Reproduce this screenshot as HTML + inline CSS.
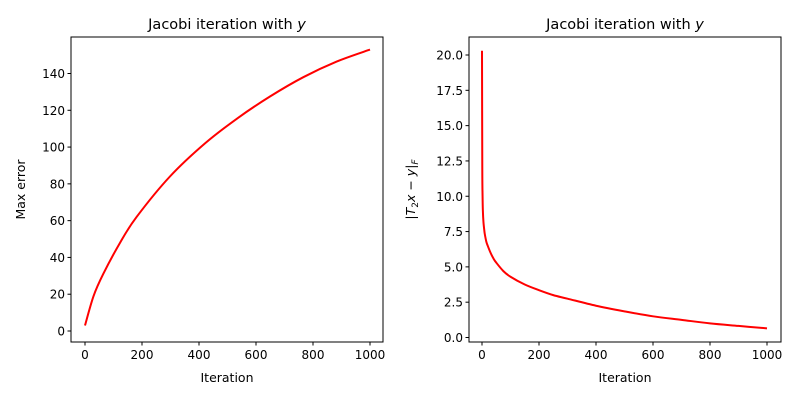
<!DOCTYPE html>
<html><head><meta charset="utf-8"><style>
body{margin:0;background:#fff;width:800px;height:400px;overflow:hidden}
text{font-family:"DejaVu Sans","Liberation Sans",sans-serif;fill:#000}
</style></head><body>
<svg id="chart" width="800" height="400" xmlns="http://www.w3.org/2000/svg"></svg>
<script>
const leftIters = [0,30,64,123,181,298,421,538,649,766,883,1000];
const leftVals = [3,19,31,48,62,84,102,116,127.5,138,146.5,153];
const rightIters = [0,1,2,3,5,8,10,15,20,30,40,50,75,100,150,200,250,300,400,500,600,700,800,900,1000];
const rightVals = [20.3,12,10,9,8.2,7.6,7.3,6.8,6.5,6.0,5.6,5.3,4.7,4.3,3.75,3.35,3.0,2.75,2.25,1.85,1.5,1.25,1.0,0.82,0.65];
const xTicks = [0,200,400,600,800,1000];
const leftYTicks = [0,20,40,60,80,100,120,140];
const rightYTicks = [0,2.5,5,7.5,10,12.5,15,17.5,20];
const rightYLabels = ["0.0","2.5","5.0","7.5","10.0","12.5","15.0","17.5","20.0"];

const svg = document.getElementById('chart');
const NS = 'http://www.w3.org/2000/svg';
function mk(tag, attrs, txt){const e=document.createElementNS(NS,tag);for(const k in attrs)e.setAttribute(k,attrs[k]);if(txt!==undefined)e.textContent=txt;svg.appendChild(e);return e;}

function smoothPath(pts){
  let d='M'+pts[0][0].toFixed(2)+','+pts[0][1].toFixed(2);
  for(let i=0;i<pts.length-1;i++){
    const p0=pts[i-1]||pts[i],p1=pts[i],p2=pts[i+1],p3=pts[i+2]||p2;
    const c1=[p1[0]+(p2[0]-p0[0])/6,p1[1]+(p2[1]-p0[1])/6];
    const c2=[p2[0]-(p3[0]-p1[0])/6,p2[1]-(p3[1]-p1[1])/6];
    d+=' C'+c1.map(v=>v.toFixed(2)).join(',')+' '+c2.map(v=>v.toFixed(2)).join(',')+' '+p2[0].toFixed(2)+','+p2[1].toFixed(2);
  }
  return d;
}

function panel(p){
  const xs=v=>p.x0+(v-0)*(p.x1-p.x0)/1000;
  const ys=v=>p.y0-(v-p.ymin)*(p.y0-p.y1)/(p.ymax-p.ymin);
  const frame=mk('rect',{x:p.L,y:37,width:312,height:305,fill:'none',stroke:'#000','stroke-width':1});
  
  
  xTicks.forEach(t=>{
    const l=mk('line',{x1:xs(t),x2:xs(t),y1:342,y2:345.5,stroke:'#000'});
    
    
    const tx=mk('text',{x:xs(t),y:359,'font-size':12,'text-anchor':'middle'},String(t));
    
    
  });
  p.yTicks.forEach((t,i)=>{
    const l=mk('line',{x1:p.L-3.5,x2:p.L,y1:ys(t),y2:ys(t),stroke:'#000'});
    
    
    const tx=mk('text',{x:p.L-6,y:ys(t)+4.5,'font-size':12,'text-anchor':'end'},p.yLabels[i]);
    
    
  });
  const pts=p.iters.map((v,i)=>[xs(v),ys(p.vals[i])]);
  const path=mk('path',{d:smoothPath(pts),fill:'none',stroke:'#ff0000','stroke-width':2,'stroke-linejoin':'round'});
  
  
  const ti=mk('text',{x:p.L+156,y:29,'font-size':14.5,'text-anchor':'middle'});
  ti.innerHTML='Jacobi iteration with <tspan font-style="italic">y</tspan>';
  
  
  const xl=mk('text',{x:p.L+156,y:382,'font-size':12.5,'text-anchor':'middle'},'Iteration');
  
  
  const yl=mk('text',{x:0,y:0,'font-size':12.5,'text-anchor':'middle',transform:`translate(${p.yLabelX},189.5) rotate(-90)`});
  yl.innerHTML=p.yTitle;
  
  
}
panel({name:'left',L:71,x0:85,x1:370,y0:331,y1:73.5,ymin:0,ymax:140,yTicks:leftYTicks,yLabels:leftYTicks.map(String),iters:leftIters,vals:leftVals,yTitle:'Max error',yLabelX:25});
panel({name:'right',L:469,x0:482,x1:767,y0:337.5,y1:55,ymin:0,ymax:20,yTicks:rightYTicks,yLabels:rightYLabels,iters:rightIters,vals:rightVals,yTitle:'|<tspan font-style="italic">T</tspan><tspan font-size="9" dy="3">2</tspan><tspan dy="-3" font-style="italic">x</tspan> − <tspan font-style="italic">y</tspan>|<tspan font-size="9" dy="3" font-style="italic">F</tspan>',yLabelX:415});
</script>
</body></html>
